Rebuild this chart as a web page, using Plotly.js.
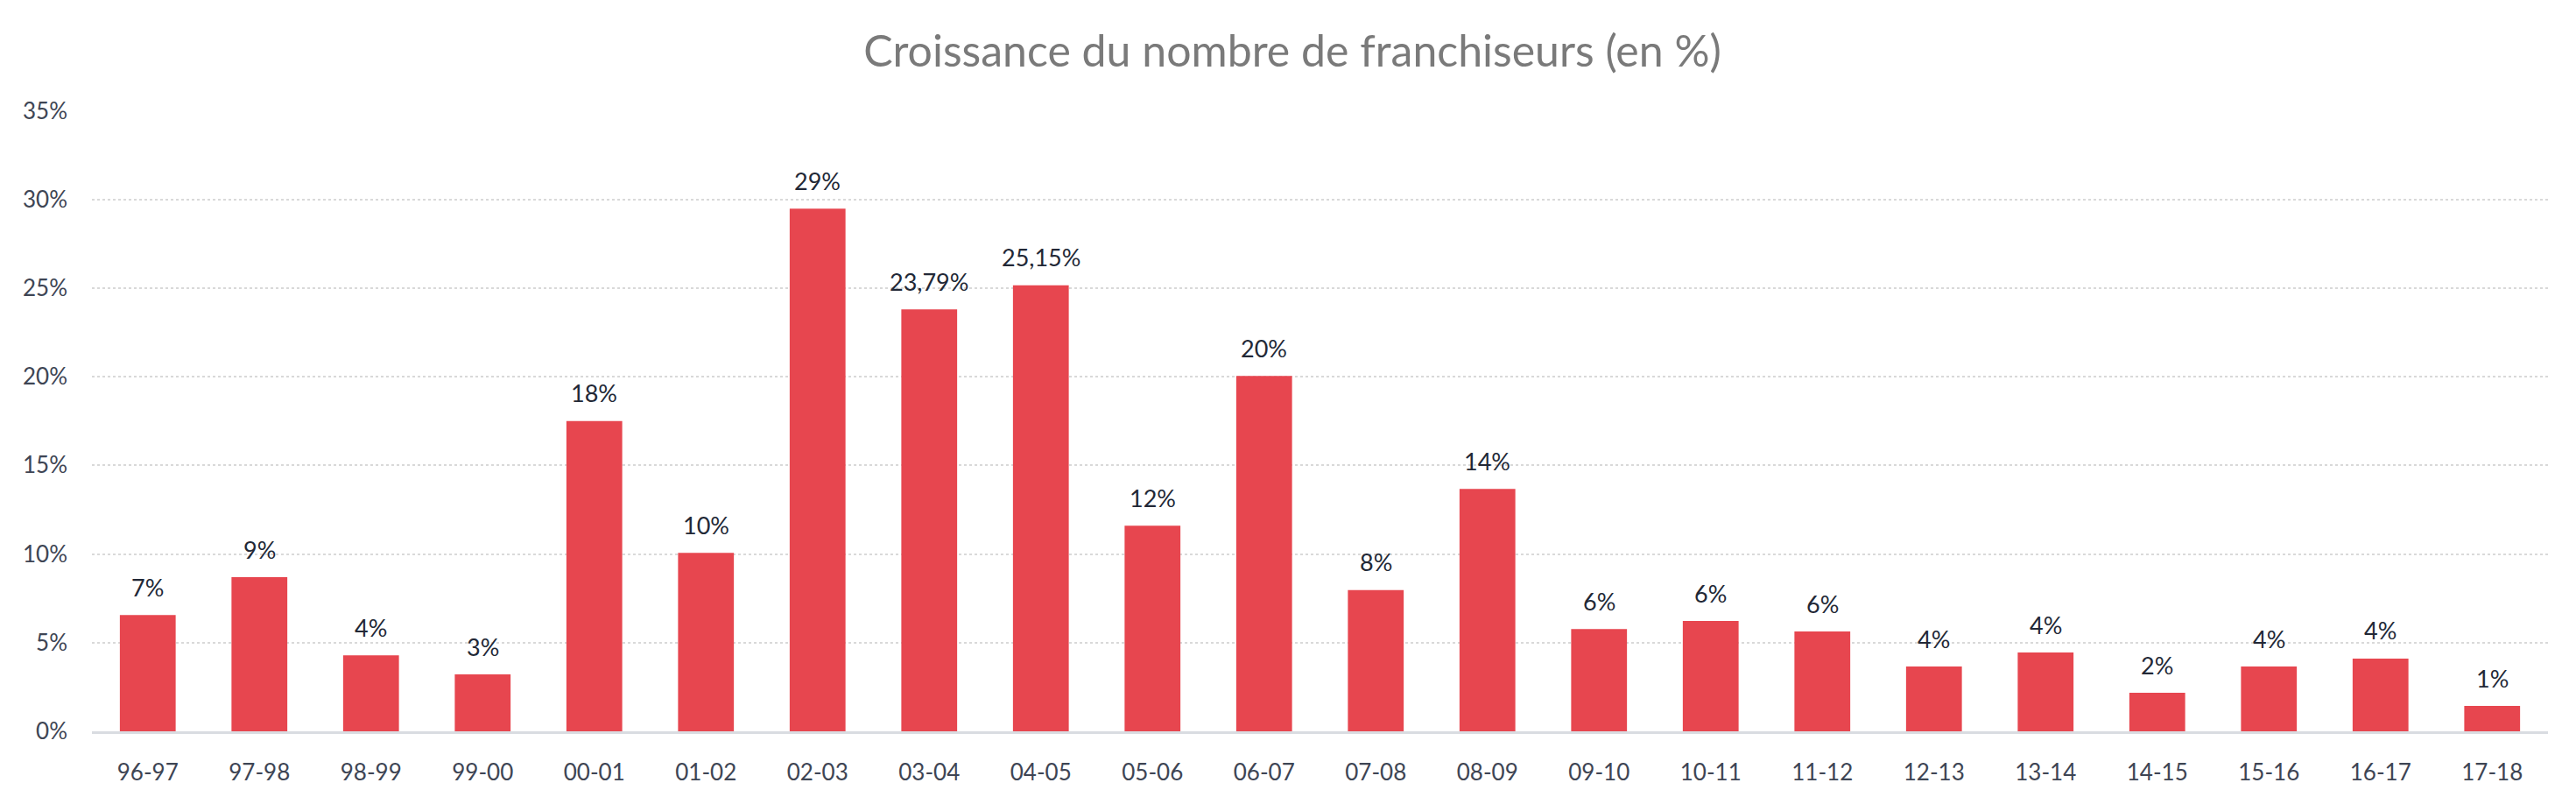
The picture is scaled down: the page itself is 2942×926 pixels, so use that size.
<!DOCTYPE html>
<html>
<head>
<meta charset="utf-8">
<script src="https://cdn.plot.ly/plotly-3.0.1.min.js"></script>
<style>html,body{margin:0;padding:0;background:#fff;}#chart{width:2942px;height:926px;}</style>
</head>
<body>
<div id="chart"></div>
<script>
const categories = ["96-97","97-98","98-99","99-00","00-01","01-02","02-03","03-04","04-05","05-06","06-07","07-08","08-09","09-10","10-11","11-12","12-13","13-14","14-15","15-16","16-17","17-18"];
const growthPct = [6.56, 8.69, 4.29, 3.21, 17.5, 10.07, 29.47, 23.79, 25.15, 11.6, 20.04, 7.97, 13.67, 5.77, 6.22, 5.63, 3.65, 4.44, 2.17, 3.65, 4.10, 1.43];
const dataLabels = ["7%","9%","4%","3%","18%","10%","29%","23,79%","25,15%","12%","20%","8%","14%","6%","6%","6%","4%","4%","2%","4%","4%","1%"];
const yTickVals = [0, 5, 10, 15, 20, 25, 30, 35];
const yTickText = ["0%","5%","10%","15%","20%","25%","30%","35%"];

const FONT = "Lato, 'Open Sans', sans-serif";

const trace = {
  type: 'bar',
  x: categories,
  y: growthPct,
  marker: {color: '#E7464F'},
  hoverinfo: 'x+y'
};

const annotations = categories.map((c, i) => ({
  x: c, y: growthPct[i], xref: 'x', yref: 'y',
  text: dataLabels[i], showarrow: false,
  yanchor: 'middle', yshift: 32,
  font: {family: FONT, size: 27, color: '#222836'}
}));

const layout = {
  width: 2942, height: 926,
  margin: {l: 105, r: 32, t: 126, b: 91, pad: 0},
  paper_bgcolor: '#ffffff', plot_bgcolor: '#ffffff',
  showlegend: false,
  bargap: 0.5,
  title: {
    text: 'Croissance du nombre de franchiseurs (en %)',
    font: {family: FONT, size: 50, color: '#7a7a7a'},
    x: 0.5017, xanchor: 'center', xref: 'container',
    y: 1 - 58/926, yref: 'container', yanchor: 'middle'
  },
  xaxis: {
    type: 'category',
    showgrid: false,
    showline: true, linecolor: '#d9dce1', linewidth: 3,
    ticks: '', ticklabelstandoff: 22,
    tickfont: {family: FONT, size: 26, color: '#3e4554'},
    zeroline: false
  },
  yaxis: {
    range: [0, 35.02],
    tickvals: yTickVals, ticktext: yTickText,
    showgrid: true, gridcolor: '#d9d9d9', gridwidth: 2, griddash: 'dot',
    zeroline: false, showline: false,
    ticks: '', ticklabelstandoff: 27,
    tickfont: {family: FONT, size: 26, color: '#3e4554'}
  },
  annotations: annotations
};

Plotly.newPlot('chart', [trace], layout, {displayModeBar: false, staticPlot: true});
</script>
</body>
</html>
